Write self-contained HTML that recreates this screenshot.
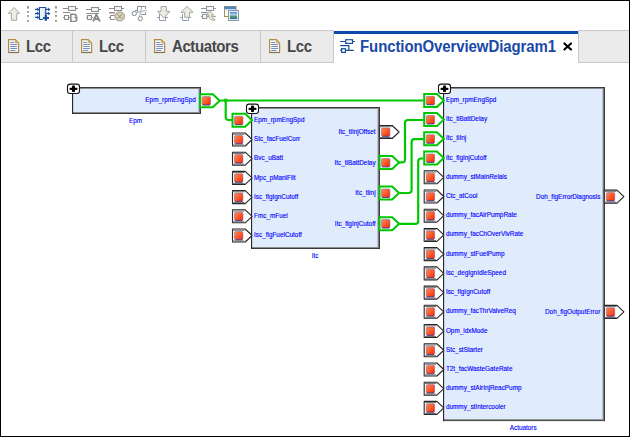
<!DOCTYPE html>
<html><head><meta charset="utf-8"><style>
html,body{margin:0;padding:0;}
body{width:630px;height:437px;position:relative;overflow:hidden;background:#fff;font-family:"Liberation Sans",sans-serif;}
.frame{position:absolute;left:0;top:0;width:628px;height:435px;border:1px solid #000;}
.tabbar{position:absolute;left:1px;top:30px;width:628px;height:32px;background:#ebebeb;border-top:1px solid #c8c8c8;border-bottom:1px solid #c8c8c8;box-sizing:border-box;height:33px;}
.tt{position:absolute;top:36.6px;font-size:15px;letter-spacing:-0.4px;font-weight:bold;color:#474747;line-height:17px;white-space:nowrap;transform:scaleY(1.04);transform-origin:0 0;}
.active{position:absolute;left:333px;top:30px;width:244px;height:33px;background:#fff;border-left:1px solid #c8c8c8;border-right:1px solid #c8c8c8;}
.active .bar{position:absolute;left:0;top:1px;width:244px;height:3px;background:#0b4aa8;}
svg text{font-family:"Liberation Sans",sans-serif;font-size:6.4px;fill:#0000ff;stroke:#0000ff;stroke-width:0.12px;}
</style></head><body>
<div class="tabbar"></div>
<svg style="position:absolute;left:8px;top:39px" width="12" height="15" viewBox="0 0 12 15">
<path d="M0.6,0.6 H7.2 L10.6,4 V13.5 H0.6 Z" fill="#f6f9ff" stroke="#b08e40" stroke-width="1.2"/>
<path d="M0.6,13.5 H10.6" stroke="#857244" stroke-width="1.2"/>
<path d="M7.2,0.9 V4 H10.3 Z" fill="#d8b86a" stroke="#c8a458" stroke-width="0.6"/>
<g stroke="#7088bc" stroke-width="0.95" stroke-linecap="round">
<path d="M2.6,3.5 H5.6 M2.6,5.5 H8.6 M2.6,7.5 H8.6 M2.6,9.5 H8.6 M2.6,11.5 H7"/>
</g>
</svg><div class="tt" style="left:26px">Lcc</div><svg style="position:absolute;left:81px;top:39px" width="12" height="15" viewBox="0 0 12 15">
<path d="M0.6,0.6 H7.2 L10.6,4 V13.5 H0.6 Z" fill="#f6f9ff" stroke="#b08e40" stroke-width="1.2"/>
<path d="M0.6,13.5 H10.6" stroke="#857244" stroke-width="1.2"/>
<path d="M7.2,0.9 V4 H10.3 Z" fill="#d8b86a" stroke="#c8a458" stroke-width="0.6"/>
<g stroke="#7088bc" stroke-width="0.95" stroke-linecap="round">
<path d="M2.6,3.5 H5.6 M2.6,5.5 H8.6 M2.6,7.5 H8.6 M2.6,9.5 H8.6 M2.6,11.5 H7"/>
</g>
</svg><div class="tt" style="left:99px">Lcc</div><svg style="position:absolute;left:154px;top:39px" width="12" height="15" viewBox="0 0 12 15">
<path d="M0.6,0.6 H7.2 L10.6,4 V13.5 H0.6 Z" fill="#f6f9ff" stroke="#b08e40" stroke-width="1.2"/>
<path d="M0.6,13.5 H10.6" stroke="#857244" stroke-width="1.2"/>
<path d="M7.2,0.9 V4 H10.3 Z" fill="#d8b86a" stroke="#c8a458" stroke-width="0.6"/>
<g stroke="#7088bc" stroke-width="0.95" stroke-linecap="round">
<path d="M2.6,3.5 H5.6 M2.6,5.5 H8.6 M2.6,7.5 H8.6 M2.6,9.5 H8.6 M2.6,11.5 H7"/>
</g>
</svg><div class="tt" style="left:172px">Actuators</div><svg style="position:absolute;left:269px;top:39px" width="12" height="15" viewBox="0 0 12 15">
<path d="M0.6,0.6 H7.2 L10.6,4 V13.5 H0.6 Z" fill="#f6f9ff" stroke="#b08e40" stroke-width="1.2"/>
<path d="M0.6,13.5 H10.6" stroke="#857244" stroke-width="1.2"/>
<path d="M7.2,0.9 V4 H10.3 Z" fill="#d8b86a" stroke="#c8a458" stroke-width="0.6"/>
<g stroke="#7088bc" stroke-width="0.95" stroke-linecap="round">
<path d="M2.6,3.5 H5.6 M2.6,5.5 H8.6 M2.6,7.5 H8.6 M2.6,9.5 H8.6 M2.6,11.5 H7"/>
</g>
</svg><div class="tt" style="left:287px">Lcc</div><div style="position:absolute;left:72px;top:30px;width:1px;height:33px;background:#c8c8c8"></div><div style="position:absolute;left:145px;top:30px;width:1px;height:33px;background:#c8c8c8"></div><div style="position:absolute;left:260px;top:30px;width:1px;height:33px;background:#c8c8c8"></div>
<div class="active"><div class="bar"></div></div>
<svg style="position:absolute;left:0;top:0" width="630" height="70">
<g fill="none" stroke="#1a4f9c" stroke-width="1.2">
<path d="M340.2,41.5 H345.6 M352.4,41.5 H354.8 M340.2,45.6 H348.8 V50.4 M345.4,50.4 H353.8 M340.2,50.4 H341.6"/>
<rect x="345.7" y="39.7" width="6.8" height="3.7" fill="#fff"/>
<rect x="341.6" y="48.7" width="3.8" height="3.7" fill="#fff"/>
</g></svg>
<div class="tt" style="left:360px;color:#1a4aa6;letter-spacing:-0.1px">FunctionOverviewDiagram1</div>
<svg style="position:absolute;left:562px;top:41px" width="11" height="11" viewBox="0 0 11 11">
<path d="M2.4,2.4 L9,8.6 M9,2.4 L2.4,8.6" stroke="#000" stroke-width="2.1" stroke-linecap="round"/></svg>
<svg style="position:absolute;left:0;top:0" width="630" height="437">
<defs>
<linearGradient id="rg" x1="0" y1="0" x2="1" y2="1">
<stop offset="0" stop-color="#ff8a5a"/><stop offset="0.5" stop-color="#ff5a2a"/><stop offset="1" stop-color="#f22a00"/>
</linearGradient>
</defs>
<rect x="72" y="87" width="129" height="27" rx="1" fill="#e0ebfb"/><rect x="72" y="87" width="129" height="1" fill="#3a3a3a"/><rect x="72" y="88" width="128" height="1" fill="#8c8c8c"/><rect x="72" y="113" width="129" height="1" fill="#3a3a3a"/><rect x="72" y="112" width="128" height="1" fill="#8a8a8a"/><rect x="200" y="87" width="1" height="27" fill="#3a3a3a"/><rect x="199" y="88" width="1" height="25" fill="#7c7c7c"/><rect x="198" y="89" width="1" height="23" fill="#b8c4d6"/><rect x="72" y="87" width="1.2" height="27" fill="#2a2a2a"/><rect x="73.2" y="89" width="0.8" height="23" fill="#c8d4e6"/>
<rect x="67.5" y="84.1" width="12" height="9.4" rx="2.5" fill="#fff" stroke="#111" stroke-width="1.1"/><rect x="69.5" y="87.7" width="8" height="2.2" rx="1" fill="#000"/><rect x="72.0" y="85.5" width="3" height="6.6" rx="0.8" fill="#000"/>
<text x="195.80" y="101.60" text-anchor="end">Epm_rpmEngSpd</text>
<text x="135.60" y="123.10" text-anchor="middle">Epm</text>
<path d="M220,100.5 H423.5" fill="none" stroke="#00c800" stroke-width="2.2"/>
<path d="M225.7,100.5 V117 Q225.7,120 228.7,120 H232.5" fill="none" stroke="#00c800" stroke-width="2.2"/>
<path d="M399,162.4 H402 Q405,162.4 405,159.4 V123 Q405,120 408,120 H423.5" fill="none" stroke="#00c800" stroke-width="2.2"/>
<path d="M399,193 H408.5 Q411.6,193 411.6,190 V142.2 Q411.6,139.2 414.6,139.2 H423.5" fill="none" stroke="#00c800" stroke-width="2.2"/>
<path d="M399,223.9 H415.2 Q418.2,223.9 418.2,220.9 V161.5 Q418.2,158.5 421.2,158.5 H423.5" fill="none" stroke="#00c800" stroke-width="2.2"/>
<circle cx="225.7" cy="100.5" r="2" fill="#00c800"/>
<path d="M200.10,94.20 H212.80 L219.70,100.70 L212.80,107.20 H200.10 Z" fill="#fff" stroke="#00c800" stroke-width="2" stroke-linejoin="miter"/><rect x="202.10" y="96.60" width="8.4" height="8.4" rx="1.2" fill="url(#rg)" stroke="#6a5aa0" stroke-width="0.5"/><path d="M202.70,105.00 H209.90" stroke="#4a3a80" stroke-width="0.9"/>
<rect x="251" y="107" width="129" height="142" rx="1" fill="#e0ebfb"/><rect x="251" y="107" width="129" height="1" fill="#3a3a3a"/><rect x="251" y="108" width="128" height="1" fill="#8c8c8c"/><rect x="251" y="248" width="129" height="1" fill="#3a3a3a"/><rect x="251" y="247" width="128" height="1" fill="#8a8a8a"/><rect x="379" y="107" width="1" height="142" fill="#3a3a3a"/><rect x="378" y="108" width="1" height="140" fill="#7c7c7c"/><rect x="377" y="109" width="1" height="138" fill="#b8c4d6"/><rect x="251" y="107" width="1.2" height="142" fill="#2a2a2a"/><rect x="252.2" y="109" width="0.8" height="138" fill="#c8d4e6"/>
<rect x="246.5" y="104.1" width="12" height="9.4" rx="2.5" fill="#fff" stroke="#111" stroke-width="1.1"/><rect x="248.5" y="107.7" width="8" height="2.2" rx="1" fill="#000"/><rect x="251.0" y="105.5" width="3" height="6.6" rx="0.8" fill="#000"/>
<path d="M232.50,113.80 H245.20 L252.10,120.30 L245.20,126.80 H232.50 Z" fill="#fff" stroke="#00c800" stroke-width="2" stroke-linejoin="miter"/><rect x="234.50" y="116.20" width="8.4" height="8.4" rx="1.2" fill="url(#rg)" stroke="#6a5aa0" stroke-width="0.5"/><path d="M235.10,124.60 H242.30" stroke="#4a3a80" stroke-width="0.9"/>
<text x="254.00" y="121.90" text-anchor="start">Epm_rpmEngSpd</text>
<path d="M232.50,133.00 H245.20 L252.10,139.50 L245.20,146.00 H232.50 Z" fill="#fff" stroke="#262626" stroke-width="1.1" stroke-linejoin="round"/><path d="M232.50,134.20 H244.70 M232.50,145.00 H244.40" stroke="#6a6a6a" stroke-width="1" fill="none"/><rect x="234.50" y="135.40" width="8.4" height="8.4" rx="1.2" fill="url(#rg)" stroke="#6a5aa0" stroke-width="0.5"/><path d="M235.10,143.80 H242.30" stroke="#4a3a80" stroke-width="0.9"/>
<text x="254.00" y="141.10" text-anchor="start">Stc_facFuelCorr</text>
<path d="M232.50,152.20 H245.20 L252.10,158.70 L245.20,165.20 H232.50 Z" fill="#fff" stroke="#262626" stroke-width="1.1" stroke-linejoin="round"/><path d="M232.50,153.40 H244.70 M232.50,164.20 H244.40" stroke="#6a6a6a" stroke-width="1" fill="none"/><rect x="234.50" y="154.60" width="8.4" height="8.4" rx="1.2" fill="url(#rg)" stroke="#6a5aa0" stroke-width="0.5"/><path d="M235.10,163.00 H242.30" stroke="#4a3a80" stroke-width="0.9"/>
<text x="254.00" y="160.30" text-anchor="start">Bvc_uBatt</text>
<path d="M232.50,171.40 H245.20 L252.10,177.90 L245.20,184.40 H232.50 Z" fill="#fff" stroke="#262626" stroke-width="1.1" stroke-linejoin="round"/><path d="M232.50,172.60 H244.70 M232.50,183.40 H244.40" stroke="#6a6a6a" stroke-width="1" fill="none"/><rect x="234.50" y="173.80" width="8.4" height="8.4" rx="1.2" fill="url(#rg)" stroke="#6a5aa0" stroke-width="0.5"/><path d="M235.10,182.20 H242.30" stroke="#4a3a80" stroke-width="0.9"/>
<text x="254.00" y="179.50" text-anchor="start">Mpc_pManiFilt</text>
<path d="M232.50,190.60 H245.20 L252.10,197.10 L245.20,203.60 H232.50 Z" fill="#fff" stroke="#262626" stroke-width="1.1" stroke-linejoin="round"/><path d="M232.50,191.80 H244.70 M232.50,202.60 H244.40" stroke="#6a6a6a" stroke-width="1" fill="none"/><rect x="234.50" y="193.00" width="8.4" height="8.4" rx="1.2" fill="url(#rg)" stroke="#6a5aa0" stroke-width="0.5"/><path d="M235.10,201.40 H242.30" stroke="#4a3a80" stroke-width="0.9"/>
<text x="254.00" y="198.70" text-anchor="start">Isc_flgIgnCutoff</text>
<path d="M232.50,209.80 H245.20 L252.10,216.30 L245.20,222.80 H232.50 Z" fill="#fff" stroke="#262626" stroke-width="1.1" stroke-linejoin="round"/><path d="M232.50,211.00 H244.70 M232.50,221.80 H244.40" stroke="#6a6a6a" stroke-width="1" fill="none"/><rect x="234.50" y="212.20" width="8.4" height="8.4" rx="1.2" fill="url(#rg)" stroke="#6a5aa0" stroke-width="0.5"/><path d="M235.10,220.60 H242.30" stroke="#4a3a80" stroke-width="0.9"/>
<text x="254.00" y="217.90" text-anchor="start">Fmc_mFuel</text>
<path d="M232.50,229.00 H245.20 L252.10,235.50 L245.20,242.00 H232.50 Z" fill="#fff" stroke="#262626" stroke-width="1.1" stroke-linejoin="round"/><path d="M232.50,230.20 H244.70 M232.50,241.00 H244.40" stroke="#6a6a6a" stroke-width="1" fill="none"/><rect x="234.50" y="231.40" width="8.4" height="8.4" rx="1.2" fill="url(#rg)" stroke="#6a5aa0" stroke-width="0.5"/><path d="M235.10,239.80 H242.30" stroke="#4a3a80" stroke-width="0.9"/>
<text x="254.00" y="237.10" text-anchor="start">Isc_flgFuelCutoff</text>
<path d="M379.50,125.50 H392.20 L399.10,132.00 L392.20,138.50 H379.50 Z" fill="#fff" stroke="#262626" stroke-width="1.1" stroke-linejoin="round"/><path d="M379.50,126.70 H391.70 M379.50,137.50 H391.40" stroke="#6a6a6a" stroke-width="1" fill="none"/><rect x="381.50" y="127.90" width="8.4" height="8.4" rx="1.2" fill="url(#rg)" stroke="#6a5aa0" stroke-width="0.5"/><path d="M382.10,136.30 H389.30" stroke="#4a3a80" stroke-width="0.9"/>
<text x="375.60" y="134.20" text-anchor="end">Itc_tiInjOffset</text>
<path d="M379.50,156.05 H392.20 L399.10,162.55 L392.20,169.05 H379.50 Z" fill="#fff" stroke="#00c800" stroke-width="2" stroke-linejoin="miter"/><rect x="381.50" y="158.45" width="8.4" height="8.4" rx="1.2" fill="url(#rg)" stroke="#6a5aa0" stroke-width="0.5"/><path d="M382.10,166.85 H389.30" stroke="#4a3a80" stroke-width="0.9"/>
<text x="375.60" y="164.75" text-anchor="end">Itc_tiBattDelay</text>
<path d="M379.50,186.60 H392.20 L399.10,193.10 L392.20,199.60 H379.50 Z" fill="#fff" stroke="#00c800" stroke-width="2" stroke-linejoin="miter"/><rect x="381.50" y="189.00" width="8.4" height="8.4" rx="1.2" fill="url(#rg)" stroke="#6a5aa0" stroke-width="0.5"/><path d="M382.10,197.40 H389.30" stroke="#4a3a80" stroke-width="0.9"/>
<text x="375.60" y="195.30" text-anchor="end">Itc_tiInj</text>
<path d="M379.50,217.15 H392.20 L399.10,223.65 L392.20,230.15 H379.50 Z" fill="#fff" stroke="#00c800" stroke-width="2" stroke-linejoin="miter"/><rect x="381.50" y="219.55" width="8.4" height="8.4" rx="1.2" fill="url(#rg)" stroke="#6a5aa0" stroke-width="0.5"/><path d="M382.10,227.95 H389.30" stroke="#4a3a80" stroke-width="0.9"/>
<text x="375.60" y="225.85" text-anchor="end">Itc_flgInjCutoff</text>
<text x="315.20" y="257.70" text-anchor="middle">Itc</text>
<rect x="443" y="87" width="162" height="334.1" rx="1" fill="#e0ebfb"/><rect x="443" y="87" width="162" height="1" fill="#3a3a3a"/><rect x="443" y="88" width="161" height="1" fill="#8c8c8c"/><rect x="443" y="420.1" width="162" height="1" fill="#3a3a3a"/><rect x="443" y="419.1" width="161" height="1" fill="#8a8a8a"/><rect x="604" y="87" width="1" height="334.1" fill="#3a3a3a"/><rect x="603" y="88" width="1" height="332.1" fill="#7c7c7c"/><rect x="602" y="89" width="1" height="330.1" fill="#b8c4d6"/><rect x="443" y="87" width="1.2" height="334.1" fill="#2a2a2a"/><rect x="444.2" y="89" width="0.8" height="330.1" fill="#c8d4e6"/>
<rect x="438.5" y="84.1" width="12" height="9.4" rx="2.5" fill="#fff" stroke="#111" stroke-width="1.1"/><rect x="440.5" y="87.7" width="8" height="2.2" rx="1" fill="#000"/><rect x="443.0" y="85.5" width="3" height="6.6" rx="0.8" fill="#000"/>
<path d="M424.20,93.90 H436.90 L443.80,100.40 L436.90,106.90 H424.20 Z" fill="#fff" stroke="#00c800" stroke-width="2" stroke-linejoin="miter"/><rect x="426.20" y="96.30" width="8.4" height="8.4" rx="1.2" fill="url(#rg)" stroke="#6a5aa0" stroke-width="0.5"/><path d="M426.80,104.70 H434.00" stroke="#4a3a80" stroke-width="0.9"/>
<text x="445.90" y="101.90" text-anchor="start">Epm_rpmEngSpd</text>
<path d="M424.20,113.12 H436.90 L443.80,119.62 L436.90,126.12 H424.20 Z" fill="#fff" stroke="#00c800" stroke-width="2" stroke-linejoin="miter"/><rect x="426.20" y="115.52" width="8.4" height="8.4" rx="1.2" fill="url(#rg)" stroke="#6a5aa0" stroke-width="0.5"/><path d="M426.80,123.92 H434.00" stroke="#4a3a80" stroke-width="0.9"/>
<text x="445.90" y="121.12" text-anchor="start">Itc_tiBattDelay</text>
<path d="M424.20,132.34 H436.90 L443.80,138.84 L436.90,145.34 H424.20 Z" fill="#fff" stroke="#00c800" stroke-width="2" stroke-linejoin="miter"/><rect x="426.20" y="134.74" width="8.4" height="8.4" rx="1.2" fill="url(#rg)" stroke="#6a5aa0" stroke-width="0.5"/><path d="M426.80,143.14 H434.00" stroke="#4a3a80" stroke-width="0.9"/>
<text x="445.90" y="140.34" text-anchor="start">Itc_tiInj</text>
<path d="M424.20,151.56 H436.90 L443.80,158.06 L436.90,164.56 H424.20 Z" fill="#fff" stroke="#00c800" stroke-width="2" stroke-linejoin="miter"/><rect x="426.20" y="153.96" width="8.4" height="8.4" rx="1.2" fill="url(#rg)" stroke="#6a5aa0" stroke-width="0.5"/><path d="M426.80,162.36 H434.00" stroke="#4a3a80" stroke-width="0.9"/>
<text x="445.90" y="159.56" text-anchor="start">Itc_flgInjCutoff</text>
<path d="M424.20,170.78 H436.90 L443.80,177.28 L436.90,183.78 H424.20 Z" fill="#fff" stroke="#262626" stroke-width="1.1" stroke-linejoin="round"/><path d="M424.20,171.98 H436.40 M424.20,182.78 H436.10" stroke="#6a6a6a" stroke-width="1" fill="none"/><rect x="426.20" y="173.18" width="8.4" height="8.4" rx="1.2" fill="url(#rg)" stroke="#6a5aa0" stroke-width="0.5"/><path d="M426.80,181.58 H434.00" stroke="#4a3a80" stroke-width="0.9"/>
<text x="445.90" y="178.78" text-anchor="start">dummy_stMainRelais</text>
<path d="M424.20,190.00 H436.90 L443.80,196.50 L436.90,203.00 H424.20 Z" fill="#fff" stroke="#262626" stroke-width="1.1" stroke-linejoin="round"/><path d="M424.20,191.20 H436.40 M424.20,202.00 H436.10" stroke="#6a6a6a" stroke-width="1" fill="none"/><rect x="426.20" y="192.40" width="8.4" height="8.4" rx="1.2" fill="url(#rg)" stroke="#6a5aa0" stroke-width="0.5"/><path d="M426.80,200.80 H434.00" stroke="#4a3a80" stroke-width="0.9"/>
<text x="445.90" y="198.00" text-anchor="start">Ctc_atCool</text>
<path d="M424.20,209.22 H436.90 L443.80,215.72 L436.90,222.22 H424.20 Z" fill="#fff" stroke="#262626" stroke-width="1.1" stroke-linejoin="round"/><path d="M424.20,210.42 H436.40 M424.20,221.22 H436.10" stroke="#6a6a6a" stroke-width="1" fill="none"/><rect x="426.20" y="211.62" width="8.4" height="8.4" rx="1.2" fill="url(#rg)" stroke="#6a5aa0" stroke-width="0.5"/><path d="M426.80,220.02 H434.00" stroke="#4a3a80" stroke-width="0.9"/>
<text x="445.90" y="217.22" text-anchor="start">dummy_facAirPumpRate</text>
<path d="M424.20,228.44 H436.90 L443.80,234.94 L436.90,241.44 H424.20 Z" fill="#fff" stroke="#262626" stroke-width="1.1" stroke-linejoin="round"/><path d="M424.20,229.64 H436.40 M424.20,240.44 H436.10" stroke="#6a6a6a" stroke-width="1" fill="none"/><rect x="426.20" y="230.84" width="8.4" height="8.4" rx="1.2" fill="url(#rg)" stroke="#6a5aa0" stroke-width="0.5"/><path d="M426.80,239.24 H434.00" stroke="#4a3a80" stroke-width="0.9"/>
<text x="445.90" y="236.44" text-anchor="start">dummy_facChOverVlvRate</text>
<path d="M424.20,247.66 H436.90 L443.80,254.16 L436.90,260.66 H424.20 Z" fill="#fff" stroke="#262626" stroke-width="1.1" stroke-linejoin="round"/><path d="M424.20,248.86 H436.40 M424.20,259.66 H436.10" stroke="#6a6a6a" stroke-width="1" fill="none"/><rect x="426.20" y="250.06" width="8.4" height="8.4" rx="1.2" fill="url(#rg)" stroke="#6a5aa0" stroke-width="0.5"/><path d="M426.80,258.46 H434.00" stroke="#4a3a80" stroke-width="0.9"/>
<text x="445.90" y="255.66" text-anchor="start">dummy_stFuelPump</text>
<path d="M424.20,266.88 H436.90 L443.80,273.38 L436.90,279.88 H424.20 Z" fill="#fff" stroke="#262626" stroke-width="1.1" stroke-linejoin="round"/><path d="M424.20,268.08 H436.40 M424.20,278.88 H436.10" stroke="#6a6a6a" stroke-width="1" fill="none"/><rect x="426.20" y="269.28" width="8.4" height="8.4" rx="1.2" fill="url(#rg)" stroke="#6a5aa0" stroke-width="0.5"/><path d="M426.80,277.68 H434.00" stroke="#4a3a80" stroke-width="0.9"/>
<text x="445.90" y="274.88" text-anchor="start">Isc_degIgnIdleSpeed</text>
<path d="M424.20,286.10 H436.90 L443.80,292.60 L436.90,299.10 H424.20 Z" fill="#fff" stroke="#262626" stroke-width="1.1" stroke-linejoin="round"/><path d="M424.20,287.30 H436.40 M424.20,298.10 H436.10" stroke="#6a6a6a" stroke-width="1" fill="none"/><rect x="426.20" y="288.50" width="8.4" height="8.4" rx="1.2" fill="url(#rg)" stroke="#6a5aa0" stroke-width="0.5"/><path d="M426.80,296.90 H434.00" stroke="#4a3a80" stroke-width="0.9"/>
<text x="445.90" y="294.10" text-anchor="start">Isc_flgIgnCutoff</text>
<path d="M424.20,305.32 H436.90 L443.80,311.82 L436.90,318.32 H424.20 Z" fill="#fff" stroke="#262626" stroke-width="1.1" stroke-linejoin="round"/><path d="M424.20,306.52 H436.40 M424.20,317.32 H436.10" stroke="#6a6a6a" stroke-width="1" fill="none"/><rect x="426.20" y="307.72" width="8.4" height="8.4" rx="1.2" fill="url(#rg)" stroke="#6a5aa0" stroke-width="0.5"/><path d="M426.80,316.12 H434.00" stroke="#4a3a80" stroke-width="0.9"/>
<text x="445.90" y="313.32" text-anchor="start">dummy_facThrValveReq</text>
<path d="M424.20,324.54 H436.90 L443.80,331.04 L436.90,337.54 H424.20 Z" fill="#fff" stroke="#262626" stroke-width="1.1" stroke-linejoin="round"/><path d="M424.20,325.74 H436.40 M424.20,336.54 H436.10" stroke="#6a6a6a" stroke-width="1" fill="none"/><rect x="426.20" y="326.94" width="8.4" height="8.4" rx="1.2" fill="url(#rg)" stroke="#6a5aa0" stroke-width="0.5"/><path d="M426.80,335.34 H434.00" stroke="#4a3a80" stroke-width="0.9"/>
<text x="445.90" y="332.54" text-anchor="start">Opm_idxMode</text>
<path d="M424.20,343.76 H436.90 L443.80,350.26 L436.90,356.76 H424.20 Z" fill="#fff" stroke="#262626" stroke-width="1.1" stroke-linejoin="round"/><path d="M424.20,344.96 H436.40 M424.20,355.76 H436.10" stroke="#6a6a6a" stroke-width="1" fill="none"/><rect x="426.20" y="346.16" width="8.4" height="8.4" rx="1.2" fill="url(#rg)" stroke="#6a5aa0" stroke-width="0.5"/><path d="M426.80,354.56 H434.00" stroke="#4a3a80" stroke-width="0.9"/>
<text x="445.90" y="351.76" text-anchor="start">Stc_stStarter</text>
<path d="M424.20,362.98 H436.90 L443.80,369.48 L436.90,375.98 H424.20 Z" fill="#fff" stroke="#262626" stroke-width="1.1" stroke-linejoin="round"/><path d="M424.20,364.18 H436.40 M424.20,374.98 H436.10" stroke="#6a6a6a" stroke-width="1" fill="none"/><rect x="426.20" y="365.38" width="8.4" height="8.4" rx="1.2" fill="url(#rg)" stroke="#6a5aa0" stroke-width="0.5"/><path d="M426.80,373.78 H434.00" stroke="#4a3a80" stroke-width="0.9"/>
<text x="445.90" y="370.98" text-anchor="start">T2t_facWasteGateRate</text>
<path d="M424.20,382.20 H436.90 L443.80,388.70 L436.90,395.20 H424.20 Z" fill="#fff" stroke="#262626" stroke-width="1.1" stroke-linejoin="round"/><path d="M424.20,383.40 H436.40 M424.20,394.20 H436.10" stroke="#6a6a6a" stroke-width="1" fill="none"/><rect x="426.20" y="384.60" width="8.4" height="8.4" rx="1.2" fill="url(#rg)" stroke="#6a5aa0" stroke-width="0.5"/><path d="M426.80,393.00 H434.00" stroke="#4a3a80" stroke-width="0.9"/>
<text x="445.90" y="390.20" text-anchor="start">dummy_stAirInjReacPump</text>
<path d="M424.20,401.42 H436.90 L443.80,407.92 L436.90,414.42 H424.20 Z" fill="#fff" stroke="#262626" stroke-width="1.1" stroke-linejoin="round"/><path d="M424.20,402.62 H436.40 M424.20,413.42 H436.10" stroke="#6a6a6a" stroke-width="1" fill="none"/><rect x="426.20" y="403.82" width="8.4" height="8.4" rx="1.2" fill="url(#rg)" stroke="#6a5aa0" stroke-width="0.5"/><path d="M426.80,412.22 H434.00" stroke="#4a3a80" stroke-width="0.9"/>
<text x="445.90" y="409.42" text-anchor="start">dummy_stIntercooler</text>
<path d="M604.30,190.10 H617.00 L623.90,196.60 L617.00,203.10 H604.30 Z" fill="#fff" stroke="#262626" stroke-width="1.1" stroke-linejoin="round"/><path d="M604.30,191.30 H616.50 M604.30,202.10 H616.20" stroke="#6a6a6a" stroke-width="1" fill="none"/><rect x="606.30" y="192.50" width="8.4" height="8.4" rx="1.2" fill="url(#rg)" stroke="#6a5aa0" stroke-width="0.5"/><path d="M606.90,200.90 H614.10" stroke="#4a3a80" stroke-width="0.9"/>
<text x="600.40" y="198.80" text-anchor="end">Doh_flgErrorDiagnosis</text>
<path d="M604.30,305.42 H617.00 L623.90,311.92 L617.00,318.42 H604.30 Z" fill="#fff" stroke="#262626" stroke-width="1.1" stroke-linejoin="round"/><path d="M604.30,306.62 H616.50 M604.30,317.42 H616.20" stroke="#6a6a6a" stroke-width="1" fill="none"/><rect x="606.30" y="307.82" width="8.4" height="8.4" rx="1.2" fill="url(#rg)" stroke="#6a5aa0" stroke-width="0.5"/><path d="M606.90,316.22 H614.10" stroke="#4a3a80" stroke-width="0.9"/>
<text x="600.40" y="314.12" text-anchor="end">Doh_flgOutputError</text>
<text x="523.20" y="429.90" text-anchor="middle">Actuators</text>
</svg>
<svg style="position:absolute;left:0;top:0" width="260" height="30" viewBox="0 0 260 30">
<defs>
<linearGradient id="chipg" x1="0" y1="0" x2="1" y2="0"><stop offset="0" stop-color="#ffffff"/><stop offset="1" stop-color="#d4e0ee"/></linearGradient>
<linearGradient id="skyg" x1="0" y1="0" x2="0" y2="1"><stop offset="0" stop-color="#4a8ad0"/><stop offset="0.45" stop-color="#b8d8f0"/><stop offset="0.55" stop-color="#6aa060"/><stop offset="1" stop-color="#2a6aa8"/></linearGradient>
</defs>
<!-- up arrow -->
<path d="M14,7.5 L19.6,13.3 H16.7 V20.3 H11.4 V13.3 H8.4 Z" fill="#eeebe3" stroke="#a6a6a0" stroke-width="1"/>
<!-- separators -->
<g fill="#a39b8c">
<rect x="27" y="6" width="2" height="2.6"/><rect x="27" y="11" width="2" height="1.8"/><rect x="27" y="15" width="2" height="1.8"/><rect x="27" y="20" width="2" height="1.8"/>
<rect x="55" y="6" width="2" height="2.6"/><rect x="55" y="11" width="2" height="1.8"/><rect x="55" y="15" width="2" height="1.8"/><rect x="55" y="20" width="2" height="1.8"/>
</g>
<!-- chip icon -->
<rect x="39.5" y="7.5" width="6.2" height="12" fill="url(#chipg)"/><path d="M43,19.5 H39.5 V7.5 H45.7 V15" fill="none" stroke="#1a4f9c" stroke-width="1.1"/>
<g stroke="#1a4f9c" stroke-width="1.3" fill="none">
<path d="M35,9.4 H38 M35,13.5 H38 M35,17.4 H38 M46,9.4 H49 M46,13.5 H49"/>
</g>
<g fill="#1a4f9c">
<path d="M37.2,7.6 L39.5,9.4 L37.2,11.2 Z M37.2,11.7 L39.5,13.5 L37.2,15.3 Z M37.2,15.6 L39.5,17.4 L37.2,19.2 Z M48.2,7.6 L50.5,9.4 L48.2,11.2 Z M48.2,11.7 L50.5,13.5 L48.2,15.3 Z"/>
<rect x="43" y="17" width="6" height="2"/><rect x="44.8" y="15" width="2.2" height="5.8"/>
</g>
<!-- icon 3 -->
<g stroke="#8c8c8c" stroke-width="1" fill="none">
<path d="M63,8.5 H68 M76,8.5 H78 M63,12.5 H70 M63,17.5 H64 M69,17.5 H70 M77,17.5 H78"/>
<rect x="68.5" y="6.5" width="7" height="4" fill="#f2f2f2"/>
<rect x="64.5" y="15.5" width="4" height="4" fill="#f2f2f2"/>
</g>
<path d="M70.8,14.2 H74.5 Q76.3,14.2 76.3,16 Q76.3,17 75.5,17.6 Q76.8,18.2 76.8,19.6 Q76.8,21.3 74.6,21.3 H70.8 Z" fill="#f4f4f4" stroke="#8a8a8a" stroke-width="1.5"/>
<rect x="72" y="19.5" width="3" height="1.2" fill="#fff"/>
<!-- icon 4 -->
<g stroke="#8c8c8c" stroke-width="1" fill="none">
<path d="M86,9.5 H91 M99,9.5 H101 M86,13.5 H99 M86,17.5 H87 M92,17.5 H93"/>
<rect x="91.5" y="7.5" width="7" height="4" fill="#f2f2f2"/>
<rect x="87.5" y="15.5" width="4" height="4" fill="#f2f2f2"/>
</g>
<path d="M93,21.5 L96.3,14.5 L100,21.5 M94.5,19 H98.5" fill="none" stroke="#8a8a8a" stroke-width="1.8"/>
<!-- icon 5 -->
<g stroke="#8c8c8c" stroke-width="1" fill="none">
<path d="M109,8.5 H114 M122,8.5 H124 M109,17.5 H110"/>
<rect x="114.5" y="6.5" width="7" height="4" fill="#f2f2f2"/>
<path d="M114.5,15.5 H110.5 V19.5 H114.5"/>
</g>
<path d="M109,12.8 H115" stroke="#b07878" stroke-width="1.3"/>
<path d="M117.5,12 H121.8 L124.3,14.5 V18.3 L121.8,20.8 H117.5 L115,18.3 V14.5 Z" fill="#d8d2b8" stroke="#9a9a90" stroke-width="1"/>
<path d="M116.8,13.8 L122.5,19 M122.5,13.8 L116.8,19" stroke="#8a8a80" stroke-width="0.9"/>
<!-- icon 6 scissors -->
<g stroke="#8a9098" stroke-width="1" fill="none">
<path d="M137.5,12.2 V6.5 H145.6 V9 M145.6,12 V14.5 H141.2 M135.2,10.5 H137.5"/>
<circle cx="134.3" cy="13.5" r="2.2" fill="#f6f6f6"/>
<circle cx="140.3" cy="18.6" r="2.2" fill="#f6f6f6"/>
</g>
<path d="M141.8,6.6 L139.6,16.4 M136.2,12.6 L146.8,10.4" stroke="#a8aeb4" stroke-width="1" fill="none"/>
<!-- icon 7 down arrow -->
<g stroke="#8fa0b4" stroke-width="1" fill="none">
<path d="M157,17.5 H159.5 M165.5,17.5 H168 M159.5,14 V20.5 H165.5 V14"/>
</g>
<path d="M161,6.5 H166.3 V11.5 H170 L163.7,17.8 L157.6,11.5 H161 Z" fill="#eeebe3" stroke="#a6a69a" stroke-width="1"/>
<!-- icon 8 up arrow -->
<g stroke="#8fa0b4" stroke-width="1" fill="none">
<path d="M180,17.5 H182.5 M188.5,17.5 H191 M182.5,14 V20.5 H188.5 V14"/>
</g>
<path d="M187,6.3 L193,12.3 H189.6 V17.3 H184.7 V12.3 H181 Z" fill="#eeebe3" stroke="#a6a69a" stroke-width="1"/>
<!-- icon 9 -->
<g stroke="#8a949e" stroke-width="1" fill="none">
<path d="M201,8.5 H206.3 M213.6,8.5 H215.8 M201,12.5 H207.7 M201,16.4 H202.3 M206.8,16.4 H215.8"/>
<rect x="206.5" y="6.5" width="7" height="4" fill="#f6f6f6"/>
<rect x="202.5" y="14.3" width="4.3" height="4.2" fill="#f6f6f6"/>
</g>
<path d="M209.9,11.2 L213.7,14.9 H211.8 V16.3 Q212,18.9 214.7,19.3 V20.4 Q209.2,20.6 208.9,16.3 V14.9 H206.3 Z" fill="#efebe0" stroke="#a69e8a" stroke-width="0.9"/>
<!-- icon 10 windows -->
<rect x="224.5" y="6.5" width="11.5" height="10" fill="#f4f8fc" stroke="#b08e48" stroke-width="1"/>
<rect x="224.5" y="6.5" width="11.5" height="2.8" fill="#4f86c8"/>
<rect x="228.5" y="10.5" width="10" height="10" fill="#fff" stroke="#8a9aac" stroke-width="1"/>
<rect x="229.8" y="11.8" width="7.4" height="7.4" fill="url(#skyg)"/>
</svg>

<div class="frame"></div>
</body></html>
